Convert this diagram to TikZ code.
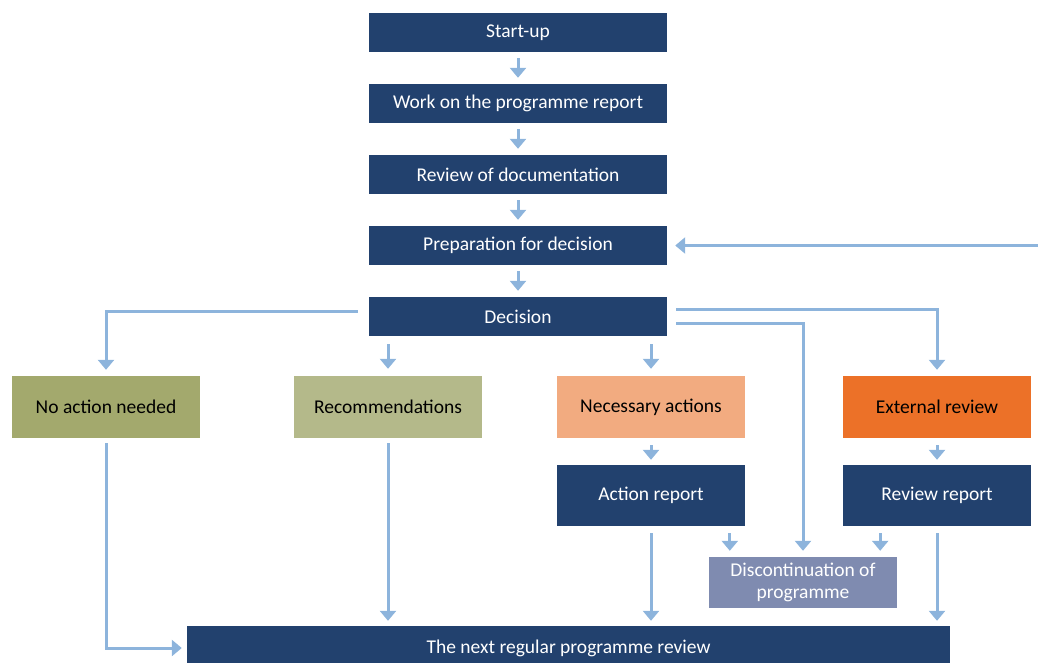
\documentclass[tikz,border=0pt]{standalone}
\usepackage{fontspec}
\setmainfont{Carlito}
\usetikzlibrary{arrows.meta}
\definecolor{navy}{HTML}{22416E}
\definecolor{arrowblue}{HTML}{8DB4DC}
\definecolor{olive}{HTML}{A3A96D}
\definecolor{lightolive}{HTML}{B4B98A}
\definecolor{salmon}{HTML}{F2AB80}
\definecolor{orangebox}{HTML}{EC7128}
\definecolor{greyblue}{HTML}{7F8BB0}
\tikzset{
  box/.style={rectangle, inner sep=0pt, minimum width=298pt, minimum height=39pt, fill=navy, text=white, font=\fontsize{19.5}{22}\selectfont},
  optbox/.style={rectangle, inner sep=0pt, minimum width=188pt, minimum height=62pt, text=black, font=\fontsize{19.5}{22}\selectfont},
  arr/.style={draw=arrowblue, line width=3pt, -{Triangle[width=16pt,length=10pt]}},
}
\begin{document}
\begin{tikzpicture}[x=1pt,y=-1pt]
\useasboundingbox (0,0) rectangle (1038,662);
\node[box] (start) at (518,32.5) {Start-up};
\node[box] (work) at (518,103.5) {Work on the programme report};
\node[box] (review) at (518,174.5) {Review of documentation};
\node[box] (prep) at (518,245.5) {Preparation for decision};
\node[box] (decision) at (518,316.5) {Decision};
\node[optbox, fill=olive] (noaction) at (106,407) {No action needed};
\node[optbox, fill=lightolive] (rec) at (388,407) {Recommendations};
\node[optbox, fill=salmon] (nec) at (651,407) {Necessary actions};
\node[optbox, fill=orangebox] (ext) at (937,407) {External review};
\node[optbox, fill=navy, text=white, minimum height=61pt] (action) at (651,495.5) {Action report};
\node[optbox, fill=navy, text=white, minimum height=61pt] (revrep) at (937,495.5) {Review report};
\node[optbox, fill=greyblue, text=white, minimum height=51pt, align=center, font=\fontsize{19.5}{22}\selectfont] (disc) at (803,582.5) {Discontinuation of\\programme};
\node[rectangle, inner sep=0pt, minimum width=763pt, minimum height=44pt, fill=navy, text=white, font=\fontsize{19.5}{22}\selectfont] (next) at (568.5,648) {The next regular programme review};
\coordinate (fb) at (1038,245.5);

\draw[arr, shorten <=6pt, shorten >=6pt] (start) -- (work);
\draw[arr, shorten <=6pt, shorten >=6pt] (work) -- (review);
\draw[arr, shorten <=6pt, shorten >=6pt] (review) -- (prep);
\draw[arr, shorten <=6pt, shorten >=6pt] (prep) -- (decision);
\draw[arr, shorten >=8pt] (fb) -- (prep.east);

\draw[arr, shorten <=11pt, shorten >=6pt] ([yshift=5pt]decision.west) -| (noaction.north);
\draw[arr, shorten <=8pt, shorten >=7pt] (decision.south -| rec.north) -- (rec.north);
\draw[arr, shorten <=8pt, shorten >=7pt] (decision.south -| nec.north) -- (nec.north);
\draw[arr, shorten <=9pt, shorten >=6pt] ([yshift=7pt]decision.east) -| (ext.north);
\draw[arr, shorten <=9pt, shorten >=6pt] ([yshift=-7pt]decision.east) -| (disc.north);

\draw[arr, shorten <=7pt, shorten >=5pt] (nec) -- (action);
\draw[arr, shorten <=7pt, shorten >=5pt] (ext) -- (revrep);
\draw[arr, shorten <=7pt, shorten >=6pt] ([xshift=21pt]disc.north west |- action.south) -- ([xshift=21pt]disc.north west);
\draw[arr, shorten <=7pt, shorten >=6pt] ([xshift=-17pt]disc.north east |- revrep.south) -- ([xshift=-17pt]disc.north east);

\draw[arr, shorten <=5pt, shorten >=5pt] (noaction.south) |- (next.west);
\draw[arr, shorten <=5pt, shorten >=5pt] (rec.south) -- (rec.south |- next.north);
\draw[arr, shorten <=7pt, shorten >=5pt] (action.south) -- (action.south |- next.north);
\draw[arr, shorten <=7pt, shorten >=5pt] (revrep.south) -- (revrep.south |- next.north);
\end{tikzpicture}
\end{document}
